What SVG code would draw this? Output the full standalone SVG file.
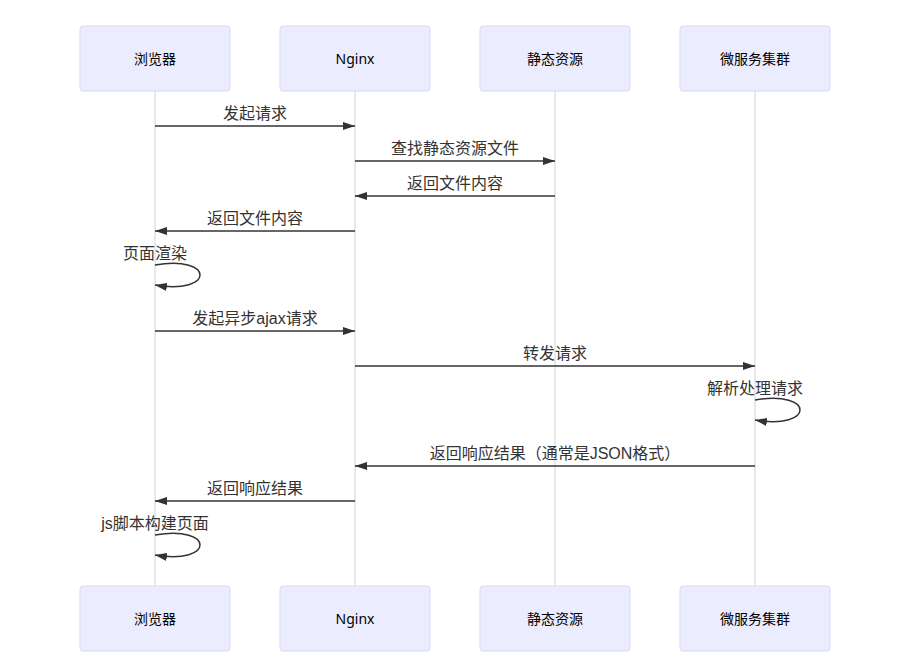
<svg xmlns="http://www.w3.org/2000/svg" width="915" height="671" viewBox="0 0 915 671">
<style>
.actor{fill:#ECECFF;stroke:#D8D8FA;stroke-width:1}
.atxt{font-family:"Noto Sans","Noto Sans CJK SC",sans-serif;font-size:14px;fill:#000;text-anchor:middle;dominant-baseline:central}
.life{stroke:#E2E2E2;stroke-width:1.5}
.msg{stroke:#333;stroke-width:1.5;fill:none}
.mtxt{font-family:"Liberation Sans","Noto Sans CJK SC",sans-serif;font-size:16px;fill:#333;text-anchor:middle}
</style>
<defs>
<marker id="ah" viewBox="0 0 12 8" refX="12" refY="4" markerWidth="12" markerHeight="8" markerUnits="userSpaceOnUse" orient="auto">
<path d="M0,0 L12,4 L0,8 z" fill="#333"/>
</marker>
</defs>
<rect width="915" height="671" fill="#fff"/>
<g id="lifelines">
<line class="life" x1="155" y1="91" x2="155" y2="586"/>
<line class="life" x1="355" y1="91" x2="355" y2="586"/>
<line class="life" x1="555" y1="91" x2="555" y2="586"/>
<line class="life" x1="755" y1="91" x2="755" y2="586"/>
</g>
<g id="browser"><rect class="actor" x="80" y="26" width="150" height="65" rx="3"/><text class="atxt" x="155" y="58.5">浏览器</text></g>
<g id="nginx"><rect class="actor" x="280" y="26" width="150" height="65" rx="3"/><text class="atxt" x="355" y="58.5">Nginx</text></g>
<g id="static"><rect class="actor" x="480" y="26" width="150" height="65" rx="3"/><text class="atxt" x="555" y="58.5">静态资源</text></g>
<g id="micro"><rect class="actor" x="680" y="26" width="150" height="65" rx="3"/><text class="atxt" x="755" y="58.5">微服务集群</text></g>
<g id="browser-bottom"><rect class="actor" x="80" y="586" width="150" height="65" rx="3"/><text class="atxt" x="155" y="618.5">浏览器</text></g>
<g id="nginx-bottom"><rect class="actor" x="280" y="586" width="150" height="65" rx="3"/><text class="atxt" x="355" y="618.5">Nginx</text></g>
<g id="static-bottom"><rect class="actor" x="480" y="586" width="150" height="65" rx="3"/><text class="atxt" x="555" y="618.5">静态资源</text></g>
<g id="micro-bottom"><rect class="actor" x="680" y="586" width="150" height="65" rx="3"/><text class="atxt" x="755" y="618.5">微服务集群</text></g>
<g id="connectors">
<line class="msg" x1="155" y1="126" x2="355" y2="126" marker-end="url(#ah)"/>
<text class="mtxt" x="255" y="119">发起请求</text>
<line class="msg" x1="355" y1="161" x2="555" y2="161" marker-end="url(#ah)"/>
<text class="mtxt" x="455" y="154">查找静态资源文件</text>
<line class="msg" x1="555" y1="196" x2="355" y2="196" marker-end="url(#ah)"/>
<text class="mtxt" x="455" y="189">返回文件内容</text>
<line class="msg" x1="355" y1="231" x2="155" y2="231" marker-end="url(#ah)"/>
<text class="mtxt" x="255" y="224">返回文件内容</text>
<path class="msg" d="M155,265 C215,255 215,295 155,285" marker-end="url(#ah)"/>
<text class="mtxt" x="155" y="259">页面渲染</text>
<line class="msg" x1="155" y1="331" x2="355" y2="331" marker-end="url(#ah)"/>
<text class="mtxt" x="255" y="324">发起异步ajax请求</text>
<line class="msg" x1="355" y1="366" x2="755" y2="366" marker-end="url(#ah)"/>
<text class="mtxt" x="555" y="359">转发请求</text>
<path class="msg" d="M755,400 C815,390 815,430 755,420" marker-end="url(#ah)"/>
<text class="mtxt" x="755" y="394">解析处理请求</text>
<line class="msg" x1="755" y1="466" x2="355" y2="466" marker-end="url(#ah)"/>
<text class="mtxt" x="555" y="459">返回响应结果（通常是JSON格式）</text>
<line class="msg" x1="355" y1="501" x2="155" y2="501" marker-end="url(#ah)"/>
<text class="mtxt" x="255" y="494">返回响应结果</text>
<path class="msg" d="M155,535 C215,525 215,565 155,555" marker-end="url(#ah)"/>
<text class="mtxt" x="155" y="529">js脚本构建页面</text>
</g>
</svg>
